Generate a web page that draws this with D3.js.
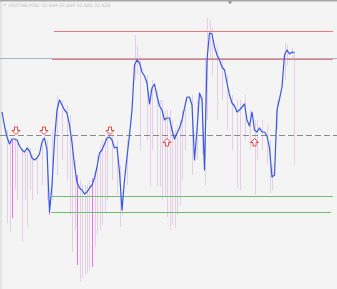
<!DOCTYPE html>
<html>
<head>
<meta charset="utf-8">
<script src="https://cdn.jsdelivr.net/npm/d3@7"></script>
<style>
  html, body { margin: 0; padding: 0; background: #f4f4f4; }
  svg { display: block; }
</style>
</head>
<body>
<svg id="chart" width="337" height="289"></svg>
<script>
// oscillator values, one per bar (M30)
const values = [
  23, 9, -2, -9, -4, -4, -5, -11, -15, -17,
  -13, -16, -23, -25, -23, -19, -7, -3, -15, -77,
  -50, -5, 25, 35, 30, 25, 22, 10, -8, -30,
  -47, -53, -55, -59, -57, -53, -50, -43, -32, -18,
  -15, -9, -3, -2, -5, -13, -12, -37, -75, -45,
  -22, 0, 25, 70, 75, 72, 63, 59, 52, 31,
  47, 51, 39, 29, 25, 15, 17, 17, 5, -4,
  2, 7, 15, 27, 38, 38, 30, -25, 5, 42,
  35, -35, 75, 102, 101, 88, 80, 75, 68, 65,
  52, 40, 32, 29, 23, 25, 28, 31, 15, 9,
  23, 5, 3, 7, 3, 3, -1, -13, -42, -40,
  25, 36, 48, 80, 85, 81, 83, 82
];

// pink spikes: bar index, top value, bottom value
const spikeIdx = [2, 3, 4, 5, 6, 8, 9, 10, 11, 12, 14, 16, 18, 19, 20, 22, 24, 26, 27, 28,
  29, 30, 31, 32, 33, 34, 35, 36, 37, 38, 39, 40, 41, 42, 44, 46, 47, 48, 50, 53,
  54, 55, 58, 59, 60, 62, 63, 64, 65, 66, 67, 68, 69, 70, 71, 72, 73, 76, 78, 80,
  81, 82, 83, 84, 86, 88, 90, 92, 94, 95, 97, 99, 101, 102, 104, 106, 107, 108, 110, 113,
  114, 116, 117];
const spikeTop = [5, -5, -5, -3, -5, -13, -15, -10, -13, -20, -20, -3, -5, -65, 5, 40, 35, 30, 20, 0,
  -25, -40, -45, -50, -50, -50, -45, -43, -35, -20, -10, -5, -3, 5, 0, -5, -30, -65, -5, 100,
  90, 80, 60, 45, 55, 45, 35, 35, 25, 25, 25, 15, 5, 10, 15, 25, 35, 40, 35, 40,
  75, 117, 115, 107, 90, 75, 60, 40, 35, 35, 40, 25, 15, 15, 15, 10, -5, -30, 35, 92,
  90, 87, 85];
const spikeBottom = [-88, -97, -83, -55, -65, -107, -65, -92, -55, -65, -60, -50, -65, -80, -65, -40, -25, -45, -80, -117,
  -95, -130, -147, -143, -140, -138, -135, -132, -112, -100, -95, -90, -78, -65, -45, -60, -92, -80, -50, 55,
  60, -15, -5, -52, -15, -52, -52, -65, -62, -82, -95, -90, -93, -80, -70, -45, -15, -40, -25, -20,
  -50, 15, 75, 60, 15, 35, 5, -15, -53, -55, -5, -15, -60, -25, -15, -30, -58, -55, 5, 55,
  70, 75, -30];
const hotIdx = [4, 19, 30, 36];

// horizontal levels: value, from bar, to bar
const levelValues = [104, 76, -61, -77];
const levelFrom = [20.8, 20, 20, 19.6];
const levelTo = [132.4, 132.4, 132.4, 131.6];
const levelColors = ["#f07878", "#f07878", "#6cbf6c", "#6cbf6c"];
const priceLineValue = 77;
const zeroValue = 0;

// signal arrows
const downArrowIdx = [5.6, 16.8, 43.2];
const downArrowValue = [4, 4, 4];
const upArrowIdx = [66, 101];
const upArrowValue = [-7, -7];

const headerText = "USDTHB,M30: 32.649 32.649 32.600 32.636";

const width = 337, height = 289;
const svg = d3.select("#chart");

const x = d3.scaleLinear().domain([0, 134]).range([2, 337]);
const y = d3.scaleLinear().domain([-154, 135]).range([289, 0]);

// background + left strip
svg.append("rect").attr("width", width).attr("height", height).attr("fill", "#f4f4f4");
svg.append("rect").attr("width", 2).attr("height", height).attr("fill", "#e4e4e4");

// spikes
svg.append("g")
  .selectAll("line")
  .data(spikeIdx)
  .join("line")
  .attr("x1", d => Math.round(x(d)) + 0.5)
  .attr("x2", d => Math.round(x(d)) + 0.5)
  .attr("y1", (d, i) => y(spikeTop[i]))
  .attr("y2", (d, i) => y(spikeBottom[i]))
  .attr("stroke", d => hotIdx.includes(d) ? "#f070f0" : "#d8b6dc")
  .attr("stroke-opacity", d => hotIdx.includes(d) ? 1 : 0.6)
  .attr("stroke-width", 1);

// price line (full width)
svg.append("line")
  .attr("x1", 0).attr("x2", width)
  .attr("y1", Math.round(y(priceLineValue)) + 0.5)
  .attr("y2", Math.round(y(priceLineValue)) + 0.5)
  .attr("stroke", "#a9b6c8").attr("stroke-width", 1);

// levels
svg.append("g")
  .selectAll("line")
  .data(levelValues)
  .join("line")
  .attr("x1", (d, i) => x(levelFrom[i]))
  .attr("x2", (d, i) => x(levelTo[i]))
  .attr("y1", d => Math.round(y(d)) + 0.5)
  .attr("y2", d => Math.round(y(d)) + 0.5)
  .attr("stroke", (d, i) => levelColors[i])
  .attr("stroke-width", 1.2);

// zero dashed line
svg.append("line")
  .attr("x1", 0).attr("x2", width)
  .attr("y1", Math.round(y(zeroValue)) + 0.5)
  .attr("y2", Math.round(y(zeroValue)) + 0.5)
  .attr("stroke", "#8a8a8a").attr("stroke-width", 1.2)
  .attr("stroke-dasharray", "6,3");

// main line
const line = d3.line()
  .x((d, i) => x(i))
  .y(d => y(d));

svg.append("path")
  .datum(values)
  .attr("fill", "none")
  .attr("stroke", "#3559e0")
  .attr("stroke-width", 1.2)
  .attr("stroke-linejoin", "round")
  .attr("d", line);

// arrows
const downPath = "M-1.5,-4 h3 v3.5 h2.5 l-4,4 l-4,-4 h2.5 z";
const upPath = "M-1.5,4 h3 v-3.5 h2.5 l-4,-4 l-4,4 h2.5 z";

svg.append("g")
  .selectAll("path")
  .data(downArrowIdx)
  .join("path")
  .attr("transform", (d, i) => `translate(${x(d)},${y(downArrowValue[i])})`)
  .attr("d", downPath)
  .attr("fill", "#fff")
  .attr("stroke", "#e83030")
  .attr("stroke-width", 0.9);

svg.append("g")
  .selectAll("path")
  .data(upArrowIdx)
  .join("path")
  .attr("transform", (d, i) => `translate(${x(d)},${y(upArrowValue[i])})`)
  .attr("d", upPath)
  .attr("fill", "#fff")
  .attr("stroke", "#e83030")
  .attr("stroke-width", 0.9);

// top border, header
svg.append("rect").attr("x", 0).attr("y", 0).attr("width", width).attr("height", 1.5).attr("fill", "#a8a8a8");
svg.append("path")
  .attr("d", "M228,1.5 h4 l-2,2.5 z")
  .attr("fill", "#6a7890");
svg.append("path")
  .attr("d", "M3,4 h3 l-1.5,2 z")
  .attr("fill", "#c4c4c4");
svg.append("text")
  .attr("x", 8).attr("y", 7)
  .attr("font-family", "DejaVu Sans, sans-serif")
  .attr("font-size", 4.6)
  .attr("fill", "#c2c2c2")
  .text(headerText);
</script>
</body>
</html>
